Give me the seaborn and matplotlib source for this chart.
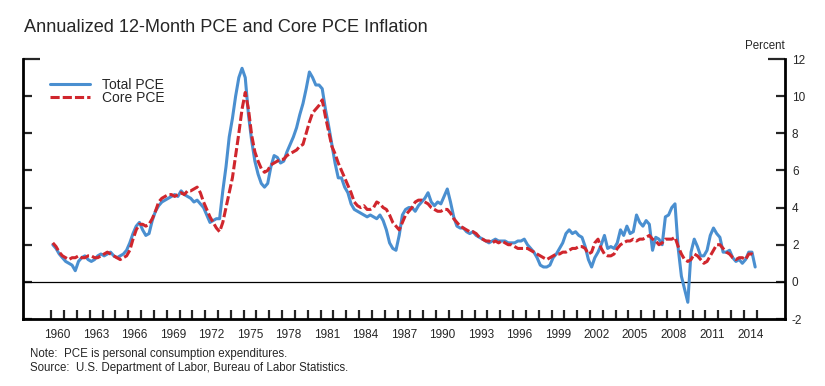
import numpy as np
import pandas as pd
import matplotlib
matplotlib.use("Agg")
import matplotlib.pyplot as plt
from matplotlib.lines import Line2D
import seaborn as sns

# quarterly observations, plotted at mid-quarter
dates = np.arange(1960.125, 2015, 0.25)

total_pce = [
    2.0, 1.8, 1.5, 1.3,   # 1960
    1.1, 1.0, 0.9, 0.6,   # 1961
    1.1, 1.3, 1.4, 1.2,   # 1962
    1.1, 1.2, 1.4, 1.5,   # 1963
    1.4, 1.5, 1.6, 1.4,   # 1964
    1.3, 1.4, 1.5, 1.7,   # 1965
    2.1, 2.6, 3.0, 3.2,   # 1966
    2.8, 2.5, 2.6, 3.3,   # 1967
    3.8, 4.1, 4.3, 4.4,   # 1968
    4.5, 4.6, 4.7, 4.6,   # 1969
    4.9, 4.7, 4.6, 4.5,   # 1970
    4.3, 4.4, 4.2, 4.0,   # 1971
    3.6, 3.2, 3.3, 3.4,   # 1972
    3.4, 4.9, 6.2, 7.8,   # 1973
    8.8, 10.0, 11.0, 11.5,  # 1974
    11.0, 9.0, 7.6, 6.5,  # 1975
    5.8, 5.3, 5.1, 5.3,   # 1976
    6.2, 6.8, 6.7, 6.4,   # 1977
    6.5, 7.0, 7.4, 7.8,   # 1978
    8.3, 9.0, 9.6, 10.4,  # 1979
    11.3, 11.0, 10.6, 10.6,  # 1980
    10.4, 9.3, 8.4, 7.4,  # 1981
    6.4, 5.6, 5.6, 5.1,   # 1982
    4.8, 4.2, 3.9, 3.8,   # 1983
    3.7, 3.6, 3.5, 3.6,   # 1984
    3.5, 3.4, 3.6, 3.3,   # 1985
    2.8, 2.1, 1.8, 1.7,   # 1986
    2.5, 3.6, 3.9, 4.0,   # 1987
    4.0, 3.8, 4.1, 4.3,   # 1988
    4.5, 4.8, 4.3, 4.1,   # 1989
    4.3, 4.2, 4.6, 5.0,   # 1990
    4.3, 3.5, 3.0, 2.9,   # 1991
    2.9, 2.7, 2.6, 2.7,   # 1992
    2.5, 2.4, 2.3, 2.2,   # 1993
    2.1, 2.2, 2.3, 2.2,   # 1994
    2.2, 2.2, 2.1, 2.1,   # 1995
    2.1, 2.2, 2.2, 2.3,   # 1996
    2.0, 1.8, 1.6, 1.3,   # 1997
    0.9, 0.8, 0.8, 0.9,   # 1998
    1.3, 1.5, 1.8, 2.1,   # 1999
    2.6, 2.8, 2.6, 2.7,   # 2000
    2.5, 2.4, 1.9, 1.2,   # 2001
    0.8, 1.3, 1.6, 2.0,   # 2002
    2.5, 1.8, 1.9, 1.8,   # 2003
    2.1, 2.8, 2.5, 3.0,   # 2004
    2.6, 2.7, 3.6, 3.2,   # 2005
    3.0, 3.3, 3.1, 1.7,   # 2006
    2.4, 2.3, 2.0, 3.5,   # 2007
    3.6, 4.0, 4.2, 1.8,   # 2008
    0.3, -0.4, -1.1, 1.6,  # 2009
    2.3, 1.9, 1.4, 1.4,   # 2010
    1.7, 2.5, 2.9, 2.6,   # 2011
    2.4, 1.6, 1.6, 1.7,   # 2012
    1.3, 1.1, 1.2, 1.0,   # 2013
    1.2, 1.6, 1.6, 0.8,   # 2014
]

core_pce = [
    2.1, 1.9, 1.6, 1.4,   # 1960
    1.3, 1.2, 1.3, 1.3,   # 1961
    1.4, 1.3, 1.3, 1.4,   # 1962
    1.4, 1.3, 1.3, 1.4,   # 1963
    1.5, 1.6, 1.5, 1.4,   # 1964
    1.3, 1.2, 1.3, 1.4,   # 1965
    1.7, 2.3, 2.8, 3.1,   # 1966
    3.1, 3.0, 3.1, 3.4,   # 1967
    3.8, 4.3, 4.5, 4.6,   # 1968
    4.7, 4.7, 4.6, 4.7,   # 1969
    4.8, 4.7, 4.9, 4.9,   # 1970
    5.0, 5.1, 4.8, 4.3,   # 1971
    3.9, 3.5, 3.2, 2.9,   # 1972
    2.7, 3.2, 4.0, 4.8,   # 1973
    5.6, 6.8, 8.0, 9.3,   # 1974
    10.2, 9.3, 7.9, 7.0,  # 1975
    6.5, 6.1, 5.9, 6.0,   # 1976
    6.3, 6.4, 6.5, 6.6,   # 1977
    6.6, 6.8, 6.9, 7.0,   # 1978
    7.1, 7.3, 7.4, 8.0,   # 1979
    8.6, 9.1, 9.3, 9.5,   # 1980
    9.8, 8.9, 8.1, 7.3,   # 1981
    6.9, 6.4, 6.0, 5.6,   # 1982
    5.2, 4.8, 4.3, 4.1,   # 1983
    4.0, 4.1, 3.9, 3.9,   # 1984
    4.0, 4.3, 4.2, 4.0,   # 1985
    3.9, 3.6, 3.2, 3.0,   # 1986
    2.8, 3.2, 3.6, 3.8,   # 1987
    4.0, 4.3, 4.4, 4.4,   # 1988
    4.3, 4.2, 4.0, 3.9,   # 1989
    3.8, 3.8, 3.9, 3.9,   # 1990
    3.7, 3.4, 3.2, 3.0,   # 1991
    2.9, 2.8, 2.7, 2.7,   # 1992
    2.6, 2.4, 2.3, 2.2,   # 1993
    2.2, 2.1, 2.2, 2.1,   # 1994
    2.2, 2.1, 2.0, 2.0,   # 1995
    1.9, 1.8, 1.8, 1.8,   # 1996
    1.8, 1.7, 1.6, 1.5,   # 1997
    1.4, 1.3, 1.2, 1.3,   # 1998
    1.4, 1.5, 1.5, 1.6,   # 1999
    1.6, 1.7, 1.8, 1.8,   # 2000
    1.9, 1.9, 1.8, 1.5,   # 2001
    1.6, 2.1, 2.3, 1.8,   # 2002
    1.5, 1.4, 1.4, 1.5,   # 2003
    1.8, 2.0, 2.1, 2.2,   # 2004
    2.2, 2.3, 2.2, 2.3,   # 2005
    2.3, 2.4, 2.5, 2.3,   # 2006
    2.2, 2.0, 2.1, 2.3,   # 2007
    2.3, 2.3, 2.4, 1.9,   # 2008
    1.5, 1.2, 1.1, 1.2,   # 2009
    1.5, 1.4, 1.2, 1.0,   # 2010
    1.1, 1.4, 1.7, 2.0,   # 2011
    2.0, 1.8, 1.6, 1.5,   # 2012
    1.3, 1.2, 1.3, 1.3,   # 2013
    1.2, 1.5, 1.5, 1.4,   # 2014
]

year_ticks = list(range(1960, 2016))
year_labels = [str(y) for y in range(1960, 2015, 3)]
y_ticks = [-2, 0, 2, 4, 6, 8, 10, 12]

df = pd.DataFrame({"date": dates, "Total PCE": total_pce, "Core PCE": core_pce})

blue = "#4A8FD0"
red = "#D0262D"

sns.set_style("ticks")
plt.rcParams["font.family"] = ["Liberation Sans", "DejaVu Sans"]

fig = plt.figure(figsize=(8.25, 3.86), dpi=100)
ax = fig.add_axes([23 / 825, 1 - 319 / 386, 762 / 825, 260 / 386])

ax.axhline(0, color="black", linewidth=0.9, zorder=1)

sns.lineplot(data=df, x="date", y="Total PCE", color=blue, linewidth=2.2, ax=ax, zorder=2)
sns.lineplot(data=df, x="date", y="Core PCE", color=red, linewidth=2.2,
             linestyle=(0, (3, 1)), ax=ax, zorder=3)

ax.set_xlim(1957.8, 2017.2)
ax.set_ylim(-2, 12)
ax.set_xlabel("")
ax.set_ylabel("")

for side in ["left", "right", "bottom"]:
    ax.spines[side].set_visible(True)
    ax.spines[side].set_linewidth(2)
    ax.spines[side].set_color("black")
ax.spines["top"].set_visible(False)

# y axis: ticks on both sides, labels on the right
ax.set_yticks(y_ticks)
ax.set_yticklabels([str(v) for v in y_ticks])
ax.yaxis.set_ticks_position("both")
ax.tick_params(axis="y", direction="in", length=6.5, width=1.6,
               labelleft=False, labelright=True, labelsize=8.5, pad=5)
# the top tick is drawn longer on both sides
top_tick = ax.yaxis.get_major_ticks()[-1]
top_tick.tick1line.set_markersize(12)
top_tick.tick2line.set_markersize(12)

# x axis: a tick every year, labels centred in the year every 3 years
ax.set_xticks(year_ticks)
ax.set_xticklabels([])
ax.set_xticks([int(l) + 0.5 for l in year_labels], minor=True)
ax.set_xticklabels(year_labels, minor=True)
ax.tick_params(axis="x", which="major", direction="in", length=6.5, width=1.6)
ax.tick_params(axis="x", which="minor", length=0, labelsize=8.5, pad=7)

handles = [Line2D([], [], color=blue, linewidth=2.2),
           Line2D([], [], color=red, linewidth=2.2, linestyle=(0, (3, 1)))]
ax.legend(handles, ["Total PCE", "Core PCE"], loc="upper left",
          bbox_to_anchor=(50 / 825, 1 - 78 / 386), bbox_transform=fig.transFigure,
          frameon=False, fontsize=10, handlelength=2.9, handletextpad=0.85,
          labelspacing=-0.05, borderpad=0, borderaxespad=0)

fig.text(24 / 825, 1 - 27 / 386, "Annualized 12-Month PCE and Core PCE Inflation",
         fontsize=13.1, va="center", ha="left")
fig.text(765 / 825, 1 - 46 / 386, "Percent", fontsize=8.3, va="center", ha="center")
fig.text(30 / 825, 1 - 354 / 386, "Note:  PCE is personal consumption expenditures.",
         fontsize=8.3, va="center", ha="left")
fig.text(30 / 825, 1 - 368 / 386,
         "Source:  U.S. Department of Labor, Bureau of Labor Statistics.",
         fontsize=8.3, va="center", ha="left")

fig.savefig("out.png", dpi=100)
